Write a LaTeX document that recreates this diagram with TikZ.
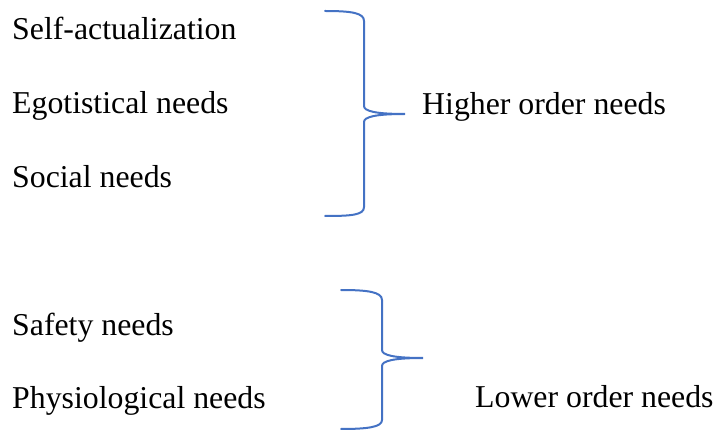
\documentclass[tikz,border=0pt]{standalone}
\usepackage{fontspec}
\setmainfont{Liberation Serif}
\begin{document}
\begin{tikzpicture}[x={(1pt,0)},y={(0,-1pt)},
  lbl/.style={anchor=base west,inner sep=0pt,font=\fontsize{31.8}{38}\selectfont},
  bracebox/.style={draw=bracecol,line width=2pt,line cap=round}]
\definecolor{bracecol}{HTML}{4472C4}
\useasboundingbox (0,0) rectangle (715,430);
\node[lbl] (self) at (12,40) {Self-actualization};
\node[lbl] (ego) at (12,114) {Egotistical needs};
\node[lbl] (social) at (12,188) {Social needs};
\node[lbl] (higher) at (422,115) {Higher order needs};
\node[lbl] (safety) at (12,336) {Safety needs};
\node[lbl] (physio) at (12,408) {Physiological needs};
\node[lbl] (lower) at (475,407) {Lower order needs};
% upper brace
\coordinate (b1top) at (325,11);
\coordinate (b1tip) at (405,114);
\coordinate (b1bot) at (325,216);
\draw[bracebox] (b1top) .. controls (352,11) and (364,13) .. (364,21) -- (364,106)
  .. controls (364,111) and (375,114) .. (b1tip)
  .. controls (375,114) and (364,117) .. (364,122) -- (364,207)
  .. controls (364,215) and (352,216) .. (b1bot);
% lower brace
\coordinate (b2top) at (341,290);
\coordinate (b2tip) at (423,358);
\coordinate (b2bot) at (341,429);
\draw[bracebox] (b2top) .. controls (368,290) and (382,292) .. (382,300) -- (382,350)
  .. controls (382,355) and (393,358) .. (b2tip)
  .. controls (393,358) and (382,361) .. (382,366) -- (382,420)
  .. controls (382,427) and (368,429) .. (b2bot);
\end{tikzpicture}
\end{document}
